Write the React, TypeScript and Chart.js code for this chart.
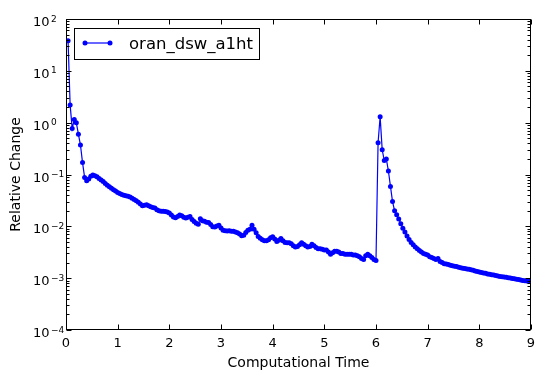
import React, { useEffect, useRef } from "react";
import { Chart, registerables } from "chart.js";

Chart.register(...registerables);

const seriesLabel = "oran_dsw_a1ht";
const xTitle = "Computational Time";
const yTitle = "Relative Change";
const xTickValues = [0, 1, 2, 3, 4, 5, 6, 7, 8, 9];
const yDecades = [-4, -3, -2, -1, 0, 1, 2];

const times = [
  0.04, 0.08, 0.12, 0.16, 0.2, 0.24, 0.28, 0.32, 0.36, 0.4,
  0.44, 0.48, 0.52, 0.56, 0.6, 0.64, 0.68, 0.72, 0.76, 0.8,
  0.84, 0.88, 0.92, 0.96, 1.0, 1.04, 1.08, 1.12, 1.16, 1.2,
  1.24, 1.28, 1.32, 1.36, 1.4, 1.44, 1.48, 1.52, 1.56, 1.6,
  1.64, 1.68, 1.72, 1.76, 1.8, 1.84, 1.88, 1.92, 1.96, 2.0,
  2.04, 2.08, 2.12, 2.16, 2.2, 2.24, 2.28, 2.32, 2.36, 2.4,
  2.44, 2.48, 2.52, 2.56, 2.6, 2.64, 2.68, 2.72, 2.76, 2.8,
  2.84, 2.88, 2.92, 2.96, 3.0, 3.04, 3.08, 3.12, 3.16, 3.2,
  3.24, 3.28, 3.32, 3.36, 3.4, 3.44, 3.48, 3.52, 3.56, 3.6,
  3.64, 3.68, 3.72, 3.76, 3.8, 3.84, 3.88, 3.92, 3.96, 4.0,
  4.04, 4.08, 4.12, 4.16, 4.2, 4.24, 4.28, 4.32, 4.36, 4.4,
  4.44, 4.48, 4.52, 4.56, 4.6, 4.64, 4.68, 4.72, 4.76, 4.8,
  4.84, 4.88, 4.92, 4.96, 5.0, 5.04, 5.08, 5.12, 5.16, 5.2,
  5.24, 5.28, 5.32, 5.36, 5.4, 5.44, 5.48, 5.52, 5.56, 5.6,
  5.64, 5.68, 5.72, 5.76, 5.8, 5.84, 5.88, 5.92, 5.96, 6.0,
  6.04, 6.08, 6.12, 6.16, 6.2, 6.24, 6.28, 6.32, 6.36, 6.4,
  6.44, 6.48, 6.52, 6.56, 6.6, 6.64, 6.68, 6.72, 6.76, 6.8,
  6.84, 6.88, 6.92, 6.96, 7.0, 7.04, 7.08, 7.12, 7.16, 7.2,
  7.24, 7.28, 7.32, 7.36, 7.4, 7.44, 7.48, 7.52, 7.56, 7.6,
  7.64, 7.68, 7.72, 7.76, 7.8, 7.84, 7.88, 7.92, 7.96, 8.0,
  8.04, 8.08, 8.12, 8.16, 8.2, 8.24, 8.28, 8.32, 8.36, 8.4,
  8.44, 8.48, 8.52, 8.56, 8.6, 8.64, 8.68, 8.72, 8.76, 8.8,
  8.84, 8.88, 8.92, 8.96, 9.0,
];

const relChange = [
  38, 2.2, 0.77, 1.15, 1.0, 0.6, 0.37, 0.17, 0.088, 0.076,
  0.082, 0.093, 0.098, 0.095, 0.09, 0.084, 0.078, 0.073, 0.067, 0.062,
  0.058, 0.054, 0.051, 0.048, 0.045, 0.043, 0.041, 0.04, 0.039, 0.038,
  0.037, 0.035, 0.033, 0.031, 0.029, 0.027, 0.025, 0.0255, 0.026, 0.025,
  0.024, 0.023, 0.0225, 0.021, 0.02, 0.0196, 0.0195, 0.0194, 0.019, 0.018,
  0.0165, 0.0152, 0.0147, 0.0155, 0.0165, 0.016, 0.015, 0.0145, 0.015, 0.0155,
  0.0135, 0.0124, 0.0115, 0.011, 0.014, 0.0128, 0.0125, 0.012, 0.0118, 0.0108,
  0.0098, 0.0097, 0.0102, 0.0105, 0.0093, 0.0084, 0.0082, 0.0081, 0.0082, 0.008,
  0.008, 0.0078, 0.0075, 0.0071, 0.0066, 0.0067, 0.0076, 0.0084, 0.0088, 0.0105,
  0.0088, 0.0075, 0.0064, 0.0059, 0.0055, 0.0053, 0.0053, 0.0055, 0.006, 0.0063,
  0.0057, 0.0051, 0.0054, 0.0058, 0.0053, 0.0049, 0.0048, 0.0048, 0.0046, 0.0042,
  0.004, 0.0041, 0.0044, 0.0048, 0.0045, 0.0042, 0.004, 0.0041, 0.0045, 0.0042,
  0.0039, 0.0037, 0.0037, 0.0036, 0.0035, 0.0035, 0.0032, 0.0029, 0.0031, 0.0033,
  0.0033, 0.0032, 0.003, 0.003, 0.0029, 0.0029, 0.0029, 0.0029, 0.0028, 0.0028,
  0.0027, 0.0026, 0.0024, 0.0023, 0.0027, 0.0029, 0.0027, 0.0025, 0.0023, 0.0022,
  0.41, 1.3, 0.3, 0.186, 0.2, 0.117, 0.059, 0.03, 0.02, 0.0168,
  0.0138, 0.0112, 0.0092, 0.0078, 0.0065, 0.0056, 0.0049, 0.0044, 0.004, 0.0037,
  0.0034, 0.0032, 0.003, 0.0029, 0.0028, 0.0026, 0.0025, 0.0024, 0.0023, 0.0024,
  0.0021, 0.002, 0.0019, 0.00188, 0.00183, 0.00178, 0.00174, 0.0017, 0.00167, 0.00163,
  0.00159, 0.00156, 0.00153, 0.0015, 0.00148, 0.00145, 0.00142, 0.00138, 0.00134, 0.00131,
  0.00128, 0.00126, 0.00124, 0.00121, 0.00119, 0.00117, 0.00115, 0.00112, 0.0011, 0.00108,
  0.00106, 0.00105, 0.00104, 0.00102, 0.00101, 0.00099, 0.00097, 0.00095, 0.00094, 0.00092,
  0.0009, 0.00089, 0.00088, 0.00087, 0.00086,
];

const FONT = '"DejaVu Sans", sans-serif';
const BLUE = "#0000ff";

export default function App() {
  const ref = useRef<HTMLCanvasElement>(null);

  useEffect(() => {
    const canvas = ref.current;
    if (!canvas) return;

    const mplAxes = {
      id: "mplAxes",
      afterDraw(chart: any) {
        const ctx: CanvasRenderingContext2D = chart.ctx;
        const a = chart.chartArea;
        const xs = chart.scales.x;
        const ys = chart.scales.y;
        const L = Math.round(a.left) + 0.5;
        const R = Math.round(a.right) - 0.5;
        const T = Math.round(a.top) + 0.5;
        const B = Math.round(a.bottom) - 0.5;
        ctx.save();
        ctx.strokeStyle = "#000";
        ctx.lineWidth = 1;

        // ticks (inward, all four sides)
        ctx.beginPath();
        for (const v of xTickValues) {
          const px = Math.round(xs.getPixelForValue(v)) + 0.5;
          ctx.moveTo(px, B);
          ctx.lineTo(px, B - 5);
          ctx.moveTo(px, T);
          ctx.lineTo(px, T + 5);
        }
        for (const e of yDecades) {
          const py = Math.round(ys.getPixelForValue(Math.pow(10, e))) + 0.5;
          ctx.moveTo(L, py);
          ctx.lineTo(L + 5, py);
          ctx.moveTo(R, py);
          ctx.lineTo(R - 5, py);
          if (e < 2) {
            for (let m = 2; m <= 9; m++) {
              const pm = Math.round(ys.getPixelForValue(m * Math.pow(10, e))) + 0.5;
              ctx.moveTo(L, pm);
              ctx.lineTo(L + 3, pm);
              ctx.moveTo(R, pm);
              ctx.lineTo(R - 3, pm);
            }
          }
        }
        ctx.stroke();

        // frame
        ctx.strokeRect(L, T, R - L, B - T);

        // tick labels
        ctx.fillStyle = "#000";
        ctx.textBaseline = "alphabetic";
        ctx.font = `13px ${FONT}`;
        ctx.textAlign = "center";
        for (const v of xTickValues) {
          const px = xs.getPixelForValue(v);
          ctx.fillText(String(v), px, a.bottom + 17);
        }
        for (const e of yDecades) {
          const py = ys.getPixelForValue(Math.pow(10, e));
          ctx.font = `13px ${FONT}`;
          ctx.textAlign = "right";
          ctx.fillText("10", 49.5, py + 7);
          ctx.font = `9px ${FONT}`;
          ctx.textAlign = "left";
          ctx.fillText(e < 0 ? "\u2212" + String(-e) : String(e), 51, py + 2.5);
        }

        // axis titles
        ctx.font = `14px ${FONT}`;
        ctx.textAlign = "center";
        ctx.fillText(xTitle, (a.left + a.right) / 2, a.bottom + 37);
        ctx.save();
        ctx.translate(20, (a.top + a.bottom) / 2);
        ctx.rotate(-Math.PI / 2);
        ctx.fillText(yTitle, 0, 0);
        ctx.restore();

        // legend
        const lx = 74.5, ly = 28.5, lw = 185, lh = 31;
        ctx.fillStyle = "#fff";
        ctx.fillRect(lx, ly, lw, lh);
        ctx.strokeStyle = "#000";
        ctx.strokeRect(lx, ly, lw, lh);
        ctx.strokeStyle = BLUE;
        ctx.lineWidth = 1.2;
        ctx.beginPath();
        ctx.moveTo(85, 43);
        ctx.lineTo(110, 43);
        ctx.stroke();
        ctx.fillStyle = BLUE;
        for (const mx of [85, 110]) {
          ctx.beginPath();
          ctx.arc(mx, 43, 2.5, 0, Math.PI * 2);
          ctx.fill();
        }
        ctx.fillStyle = "#000";
        ctx.font = `16.5px ${FONT}`;
        ctx.textAlign = "left";
        ctx.fillText(seriesLabel, 129, 48.5);
        ctx.restore();
      },
    };

    const chart = new Chart(canvas, {
      type: "line",
      data: {
        datasets: [
          {
            label: seriesLabel,
            data: times.map((t, i) => ({ x: t, y: relChange[i] })),
            borderColor: BLUE,
            backgroundColor: BLUE,
            borderWidth: 1.2,
            pointRadius: 2.5,
            pointBorderWidth: 0,
            pointBackgroundColor: BLUE,
            pointHoverRadius: 2.5,
            tension: 0,
            fill: false,
          },
        ],
      },
      options: {
        animation: false,
        responsive: false,
        maintainAspectRatio: false,
        events: [],
        layout: { padding: { left: 66, top: 19, right: 14, bottom: 50 } },
        plugins: {
          legend: { display: false },
          tooltip: { enabled: false },
          title: { display: false },
        },
        scales: {
          x: {
            type: "linear",
            min: 0,
            max: 9,
            display: false,
          },
          y: {
            type: "logarithmic",
            min: 1e-4,
            max: 1e2,
            display: false,
          },
        },
      },
      plugins: [mplAxes],
    });

    return () => chart.destroy();
  }, []);

  return (
    <div style={{ position: "absolute", left: 0, top: 0, width: 545, height: 380, background: "#fff" }}>
      <canvas ref={ref} width={545} height={380} style={{ display: "block", width: 545, height: 380 }} />
    </div>
  );
}
